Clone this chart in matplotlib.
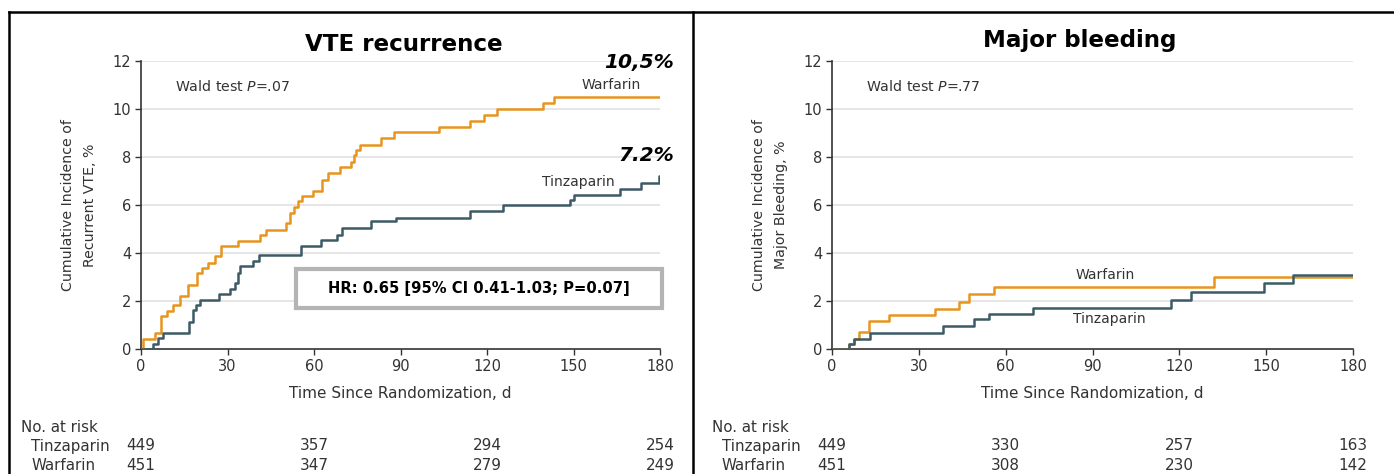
import matplotlib
matplotlib.use("Agg")
import matplotlib.pyplot as plt
from matplotlib.lines import Line2D
from matplotlib.patches import Rectangle
from matplotlib.transforms import blended_transform_factory

W, H = 1394, 474
ORANGE = "#E8951D"
SLATE = "#3D5A66"
TXT = "#333333"

plt.rcParams["font.family"] = ["DejaVu Sans"]
plt.rcParams["mathtext.fontset"] = "dejavusans"

# VTE recurrence: day of each step and cumulative incidence (%) after it
vte_warf_days = [0, 0.8, 4.8, 6.9, 9.1, 11.2, 13.5, 16.4, 19.3, 21.3, 23.3, 25.6,
                 27.9, 33.7, 41.2, 43.5, 50.4, 51.6, 53.0, 54.5, 56.0, 59.6, 62.9,
                 64.8, 68.9, 72.9, 73.7, 74.7, 76.0, 83.3, 87.9, 103.3, 114.2,
                 118.8, 123.3, 139.3, 143.3, 180]
vte_warf_pct = [0, 0.42, 0.67, 1.36, 1.57, 1.85, 2.22, 2.68, 3.17, 3.38, 3.6, 3.86,
                4.3, 4.5, 4.76, 4.97, 5.25, 5.67, 5.9, 6.15, 6.39, 6.6, 7.06,
                7.33, 7.6, 7.8, 8.1, 8.3, 8.5, 8.8, 9.03, 9.25, 9.5,
                9.76, 10.0, 10.25, 10.5, 10.5]
vte_tinz_days = [0, 4.3, 5.9, 7.7, 16.7, 18.1, 19.0, 20.4, 27.1, 30.8, 32.5, 33.7,
                 34.3, 38.7, 41.0, 55.6, 62.5, 67.9, 69.7, 79.8, 88.3, 114.2,
                 125.6, 148.7, 150.2, 166.0, 173.3, 179.6, 180]
vte_tinz_pct = [0, 0.22, 0.46, 0.67, 1.11, 1.64, 1.85, 2.06, 2.3, 2.5, 2.75, 3.17,
                3.44, 3.65, 3.93, 4.28, 4.56, 4.76, 5.04, 5.32, 5.46, 5.74,
                5.99, 6.22, 6.43, 6.67, 6.92, 7.19, 7.19]

# Major bleeding
bleed_warf_days = [0, 6.0, 7.7, 9.2, 12.9, 19.8, 35.6, 44.0, 47.4, 55.9, 132.1, 180]
bleed_warf_pct = [0, 0.22, 0.43, 0.72, 1.18, 1.42, 1.67, 1.97, 2.29, 2.6, 2.98, 2.98]
bleed_tinz_days = [0, 6.0, 7.5, 13.3, 38.5, 49.2, 54.3, 69.5, 117.0, 124.2, 149.4, 159.3, 180]
bleed_tinz_pct = [0, 0.22, 0.43, 0.65, 0.97, 1.26, 1.47, 1.71, 2.03, 2.37, 2.73, 3.07, 3.07]

risk_days = [0, 60, 120, 180]
vte_risk_tinz = [449, 357, 294, 254]
vte_risk_warf = [451, 347, 279, 249]
bleed_risk_tinz = [449, 330, 257, 163]
bleed_risk_warf = [451, 308, 230, 142]


def fx(px):
    return px / W


def fy(py):
    return 1 - py / H


def panel(ax, title, title_xy, ylabel, wald, warf, tinz, risk_t, risk_w):
    ax.set_xlim(0, 180)
    ax.set_ylim(0, 12)
    ax.set_xticks([0, 30, 60, 90, 120, 150, 180])
    ax.set_yticks([0, 2, 4, 6, 8, 10, 12])
    for y in [2, 4, 6, 8, 10, 12]:
        ax.axhline(y, color="#e2e2e2", lw=1.2, zorder=0)
    for s in ["top", "right"]:
        ax.spines[s].set_visible(False)
    for s in ["left", "bottom"]:
        ax.spines[s].set_color("#333333")
        ax.spines[s].set_linewidth(1.2)
    ax.tick_params(direction="out", length=4, width=1, color="#333333",
                   labelcolor=TXT, labelsize=10.5, pad=3)
    ax.step(warf[0], warf[1], where="post", color=ORANGE, lw=1.8, zorder=3)
    ax.step(tinz[0], tinz[1], where="post", color=SLATE, lw=1.8, zorder=4)
    ax.set_xlabel("Time Since Randomization, d", fontsize=11, color=TXT, labelpad=9)
    ax.set_ylabel(ylabel, fontsize=10.2, color=TXT, labelpad=11, linespacing=1.75)
    ax.text(0.065, 0.912, "Wald test $P$=" + wald, transform=ax.transAxes,
            fontsize=10.2, color=TXT, va="center", ha="left")

    # title
    fig.text(fx(title_xy[0]), fy(title_xy[1]), title,
             weight="bold", fontsize=16.6, ha="center", va="baseline", color="black")

    # numbers at risk
    left_px = ax.get_position().x0 * W
    tr = blended_transform_factory(ax.transData, fig.transFigure)
    fig.text(fx(left_px - 120), fy(427), "No. at risk", fontsize=10.8, color=TXT, va="center")
    fig.text(fx(left_px - 110), fy(446), "Tinzaparin", fontsize=10.8, color=TXT, va="center")
    fig.text(fx(left_px - 110), fy(465), "Warfarin", fontsize=10.8, color=TXT, va="center")
    for d, t, w in zip(risk_days, risk_t, risk_w):
        ax.text(d, fy(446), str(t), transform=tr, fontsize=11, color=TXT,
                ha="center", va="center", clip_on=False)
        ax.text(d, fy(465), str(w), transform=tr, fontsize=11, color=TXT,
                ha="center", va="center", clip_on=False)


fig = plt.figure(figsize=(W / 100, H / 100), dpi=100)
ax1 = fig.add_axes([fx(141), fy(349), fx(519), 288 / H])
ax2 = fig.add_axes([fx(832), fy(349), fx(521), 288 / H])

panel(ax1, "VTE recurrence", (404, 51), "Cumulative Incidence of\nRecurrent VTE, %", ".07",
      (vte_warf_days, vte_warf_pct), (vte_tinz_days, vte_tinz_pct),
      vte_risk_tinz, vte_risk_warf)
panel(ax2, "Major bleeding", (1080, 47), "Cumulative Incidence of\nMajor Bleeding, %", ".77",
      (bleed_warf_days, bleed_warf_pct), (bleed_tinz_days, bleed_tinz_pct),
      bleed_risk_tinz, bleed_risk_warf)

# VTE panel annotations
ax1.text(162.9, 11.0, "Warfarin", fontsize=10, color=TXT, ha="center", va="center")
ax1.text(151.5, 6.95, "Tinzaparin", fontsize=10, color=TXT, ha="center", va="center")
ax1.text(184.8, 11.92, "10,5%", weight="bold", style="italic",
         fontsize=14.5, ha="right", va="center", clip_on=False)
ax1.text(184.8, 8.06, "7.2%", weight="bold", style="italic",
         fontsize=14.5, ha="right", va="center", clip_on=False)
ax1.add_patch(Rectangle((0.299, 0.142), 0.705, 0.136, transform=ax1.transAxes,
                        fill=True, facecolor="white", edgecolor="#b4b4b4", lw=3,
                        clip_on=False, zorder=5))
ax1.text(0.651, 0.21, "HR: 0.65 [95% CI 0.41-1.03; P=0.07]", transform=ax1.transAxes,
         weight="bold", fontsize=10.6, ha="center", va="center", zorder=6)

# bleeding panel annotations
ax2.text(94.3, 3.1, "Warfarin", fontsize=10, color=TXT, ha="center", va="center")
ax2.text(95.8, 1.25, "Tinzaparin", fontsize=10, color=TXT, ha="center", va="center")

# panel frames
for xs, ys in [([9, 9], [12, H]), ([9, W], [12, 12]), ([693, 693], [12, H])]:
    fig.add_artist(Line2D([fx(x) for x in xs], [fy(y) for y in ys],
                          transform=fig.transFigure, color="black", lw=1.8))

fig.savefig("out.png", dpi=100)
